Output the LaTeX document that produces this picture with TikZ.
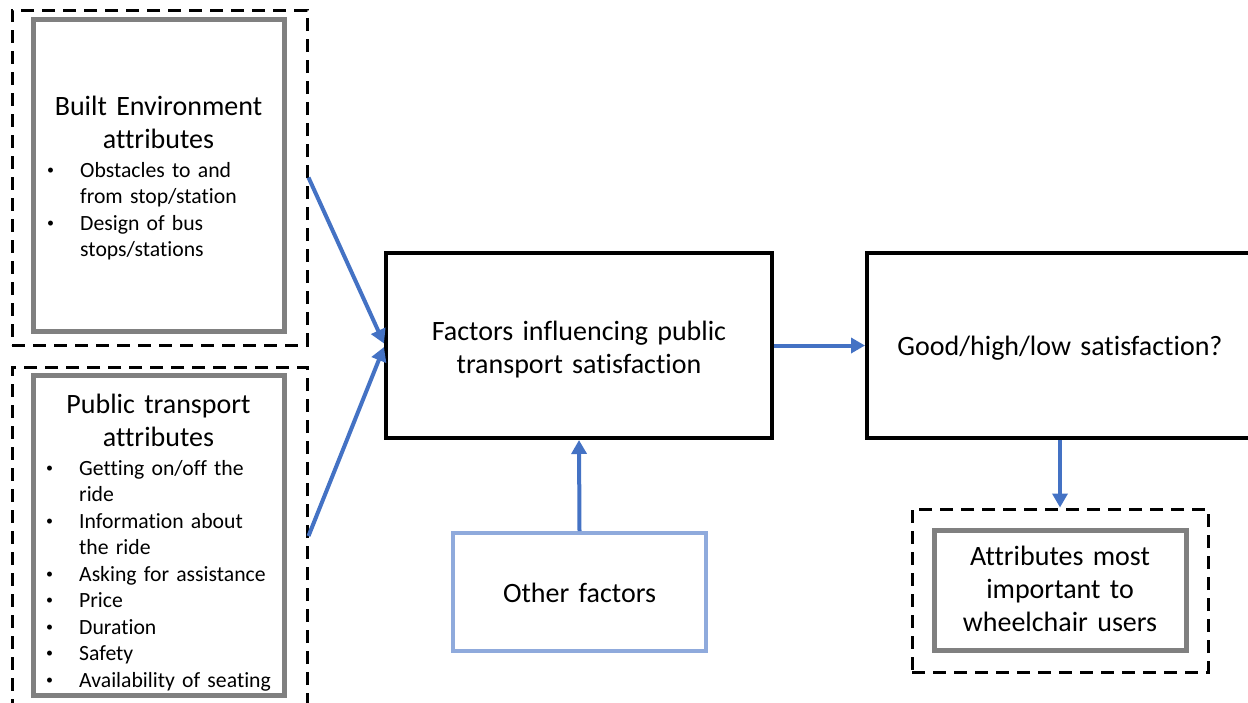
\documentclass[tikz,border=0pt]{standalone}
\usepackage{fontspec}
\setmainfont{Carlito}[Ligatures=NoCommon]
\usetikzlibrary{arrows.meta,calc}
\definecolor{arrowblue}{HTML}{4472C4}
\definecolor{lightblue}{HTML}{8FAADC}
\definecolor{boxgray}{HTML}{808080}
\newcommand\bul{\leavevmode\llap{\raisebox{3pt}{\fontsize{14}{14}\selectfont•}\hspace{26pt}}}
\tikzset{
  dashbox/.style={draw=black, line width=3pt, dash pattern=on 13pt off 8pt, inner sep=0},
  graybox/.style={draw=boxgray, line width=5pt, inner sep=0},
  blackbox/.style={draw=black, line width=4pt, inner sep=0},
  otherbox/.style={draw=lightblue, line width=4pt, inner sep=0},
  conn/.style={draw=arrowblue, line width=4pt, -{Triangle[length=14pt,width=15pt]}},
  bigtxt/.style={font=\fontsize{28}{33}\selectfont, inner sep=0, text width=#1, align=center, anchor=base},
  listtxt/.style={font=\fontsize{21.7}{26.5}\selectfont, inner sep=0, text width=#1, align=left, anchor=base west},
}
\begin{document}
\begin{tikzpicture}[x=1pt,y=-1pt]
\useasboundingbox (0,0) rectangle (1248,702);
\clip (0,0) rectangle (1248,702);
\fill[white] (0,0) rectangle (1248,702);

% left group 1
\node[dashbox, minimum width=295pt, minimum height=335pt] (d1) at (159.5,177.5) {};
\node[graybox, minimum width=251pt, minimum height=312pt] (g1) at (158.5,175) {};
\node[bigtxt=250pt] (t1) at (158.5,115) {Built Environment\\attributes};
\node[listtxt=210pt] (l1) at (80,177) {\bul Obstacles to and\\from stop/station\\\bul Design of bus\\stops/stations};

% left group 2
\node[dashbox, minimum width=295pt, minimum height=338pt] (d2) at (159.5,536) {};
\node[graybox, minimum width=251pt, minimum height=320pt] (g2) at (158.5,535) {};
\node[bigtxt=250pt] (t2) at (158.5,413) {Public transport\\attributes};
\node[listtxt=210pt] (l2) at (79,475) {\bul Getting on/off the\\ride\\\bul Information about\\the ride\\\bul Asking for assistance\\\bul Price\\\bul Duration\\\bul Safety\\\bul Availability of seating};

% central
\node[blackbox, minimum width=386pt, minimum height=185pt] (c) at (579,345.5) {};
\node[bigtxt=380pt] (ct) at (579,340) {Factors influencing public\\transport satisfaction};

% right
\node[blackbox, minimum width=386pt, minimum height=185pt] (r) at (1060,345.5) {};
\node[bigtxt=380pt] (rt) at (1060,355) {Good/high/low satisfaction?};

% other factors
\node[otherbox, minimum width=253pt, minimum height=118pt] (o) at (579.5,592) {};
\node[bigtxt=250pt] (ot) at (579.5,602) {Other factors};

% attributes most important
\node[dashbox, minimum width=296pt, minimum height=163pt] (d3) at (1060,590.5) {};
\node[graybox, minimum width=252pt, minimum height=120pt] (g3) at (1060,590) {};
\node[bigtxt=250pt] (at) at (1060,565) {Attributes most\\important to\\wheelchair users};

% connectors
\draw[conn] (d1.east) -- ($(c.west)+(0,-2)$);
\draw[conn] (d2.east) -- ($(c.west)+(0,1.5)$);
\draw[conn] (c.east) -- (r.west);
\draw[conn] (r.south) -- (d3.north);
\draw[conn] (o.north) -- (c.south);
\end{tikzpicture}
\end{document}
